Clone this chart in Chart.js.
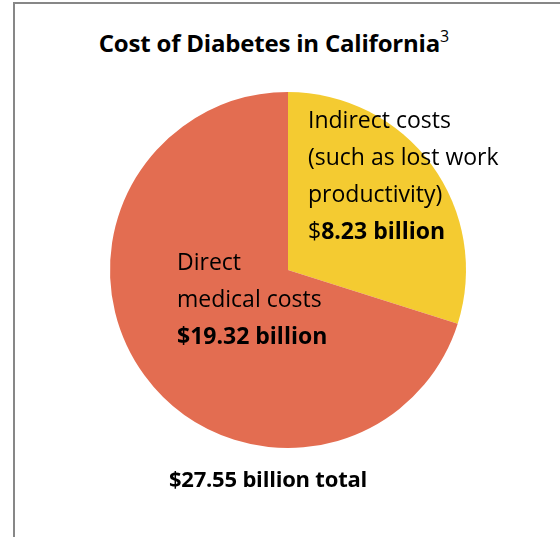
<!DOCTYPE html>
<html>
<head>
<meta charset="utf-8">
<script src="https://cdn.jsdelivr.net/npm/chart.js@4"></script>
<style>
  body { margin: 0; background: #fff; font-family: "Open Sans", sans-serif; }
  #wrap { position: relative; width: 560px; height: 537px; overflow: hidden; }
  #frame { position: absolute; left: 13px; top: 2px; width: 700px; height: 700px;
           border-left: 2px solid #878787; border-top: 2px solid #878787; }
  #title { position: absolute; left: 74px; width: 400px; top: 26px; text-align: center;
           font-weight: bold; font-size: 24px; color: #000; letter-spacing: -0.2px; }
  #title sup { font-weight: normal; font-size: 16px; vertical-align: 10px; line-height: 0; letter-spacing: 0; }
  #total { position: absolute; left: 68px; width: 400px; top: 463px; text-align: center;
           font-weight: bold; font-size: 22px; color: #000; letter-spacing: -0.2px; }
  canvas { position: absolute; left: 0; top: 0; }
</style>
</head>
<body>
<div id="wrap">
  <div id="frame"></div>
  <div id="title">Cost of Diabetes in California<sup>3</sup></div>
  <canvas id="pie" width="560" height="537"></canvas>
  <div id="total">$27.55 billion total</div>
</div>
<script>
// Cost categories (billions of dollars)
const categories = ['Indirect costs', 'Direct medical costs'];
const costs = [8.23, 19.32];
const colors = ['#F4CB31', '#E36D51'];

// label lines shown on each slice: [text, bold] pieces per line
const sliceLabels = [
    [
        [['Indirect costs', false]],
        [['(such as lost work', false]],
        [['productivity)', false]],
        [['$', false], [costs[0].toFixed(2) + ' billion', true]]
    ],
    [
        [['Direct', false]],
        [['medical costs', false]],
        [['$' + costs[1].toFixed(2) + ' billion', true]]
    ]
];

// offsets of the label blocks from the pie centre
const labelOffsets = [{ dx: 20, dy: -142 }, { dx: -111, dy: 0 }];

// Draws the multi-line labels on top of the slices
const sliceLabelPlugin = {
    id: 'sliceLabels',
    afterDatasetsDraw(chart) {
        const ctx = chart.ctx;
        const arc = chart.getDatasetMeta(0).data[0];
        ctx.save();
        ctx.fillStyle = '#000';
        ctx.textBaseline = 'alphabetic';
        sliceLabels.forEach((lines, i) => {
            const x0 = arc.x + labelOffsets[i].dx;
            let y = arc.y + labelOffsets[i].dy;
            lines.forEach(parts => {
                let x = x0;
                parts.forEach(([text, bold]) => {
                    ctx.font = (bold ? 'bold ' : '') + '23px "Open Sans", sans-serif';
                    ctx.fillText(text, x, y);
                    x += ctx.measureText(text).width;
                });
                y += 37;
            });
        });
        ctx.restore();
    }
};

const ctx = document.getElementById('pie').getContext('2d');
new Chart(ctx, {
    type: 'pie',
    data: {
        labels: categories,
        datasets: [{
            data: costs,
            backgroundColor: colors,
            borderWidth: 0
        }]
    },
    options: {
        responsive: false,
        animation: false,
        layout: {
            padding: { left: 110, right: 94, top: 92, bottom: 89 }
        },
        plugins: {
            legend: { display: false },
            tooltip: { enabled: false }
        }
    },
    plugins: [sliceLabelPlugin]
});
</script>
</body>
</html>
